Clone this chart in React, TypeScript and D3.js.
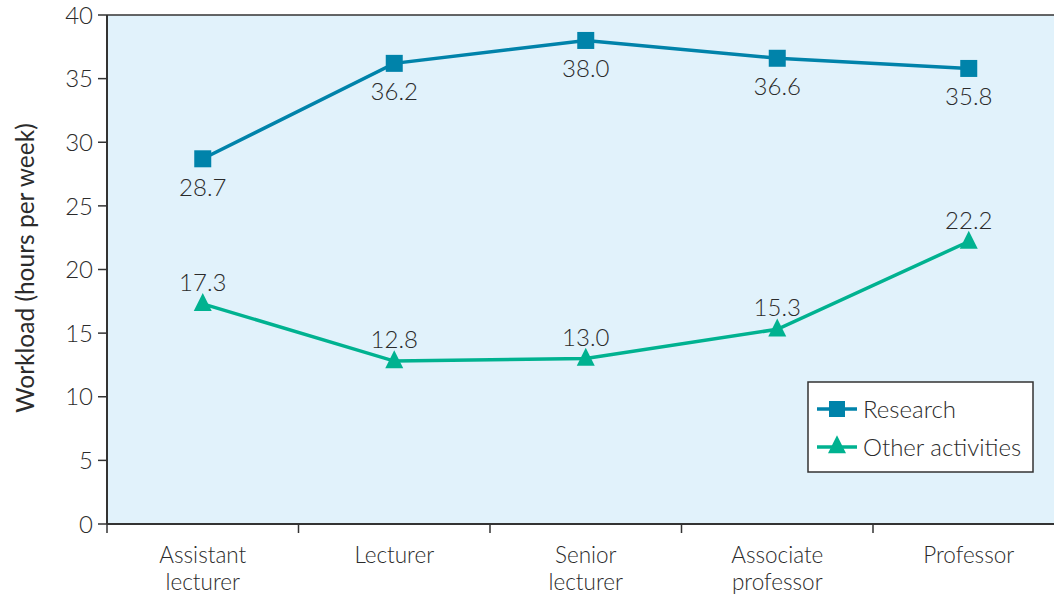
import React from "react";
import * as d3 from "d3";

const categories = ["Assistant\nlecturer", "Lecturer", "Senior\nlecturer", "Associate\nprofessor", "Professor"];
const research = [28.7, 36.2, 38.0, 36.6, 35.8];
const other = [17.3, 12.8, 13.0, 15.3, 22.2];
const yTicks = [0, 5, 10, 15, 20, 25, 30, 35, 40];
const seriesNames = ["Research", "Other activities"];

const W = 1054, H = 597;
const left = 107, top = 15, bottom = 524, right = 1064.5;
const C_RES = "#0083aa";
const C_OTH = "#00b290";
const TXT = "#2b2b2b";
const FONT = "Lato, 'Open Sans', sans-serif";

export default function App() {
  const x = d3.scaleBand<string>().domain(categories).range([left, right]);
  const y = d3.scaleLinear().domain([0, 40]).range([bottom, top]);
  const line = d3.line<number>().x((_, i) => x(categories[i])! + x.bandwidth() / 2).y((d) => y(d));
  const cx = (i: number) => x(categories[i])! + x.bandwidth() / 2;
  const tri = (px: number, py: number, s: number) =>
    `M${px},${py - s * 0.6}L${px + s / 2},${py + s * 0.4}L${px - s / 2},${py + s * 0.4}Z`;
  const boundaries = categories.map((c) => x(c)!).concat([right]);

  return (
    <svg width={W} height={H} style={{ position: "absolute", left: 0, top: 0, fontFamily: FONT }}>
      <rect x={0} y={0} width={W} height={H} fill="#fff" />
      <rect x={left} y={top} width={right - left} height={bottom - top} fill="#e1f2fb" />
      <line x1={left} x2={right} y1={top} y2={top} stroke="#333" strokeWidth={1.5} />
      <line x1={left} x2={left} y1={top} y2={bottom} stroke="#333" strokeWidth={2} />
      <line x1={left} x2={right} y1={bottom} y2={bottom} stroke="#333" strokeWidth={2} />
      {yTicks.map((t) => (
        <g key={t}>
          <line x1={left - 9} x2={left} y1={y(t)} y2={y(t)} stroke="#333" strokeWidth={1.5} />
          <text x={left - 14} y={y(t)} dy="0.36em" textAnchor="end" fontSize={24} fontWeight={300} fill={TXT}>
            {t}
          </text>
        </g>
      ))}
      {boundaries.map((b, i) => (
        <line key={i} x1={b} x2={b} y1={bottom} y2={bottom + 9} stroke="#333" strokeWidth={1.5} />
      ))}
      {categories.map((c, i) =>
        c.split("\n").map((l, j) => (
          <text
            key={c + j}
            x={cx(i)}
            y={563 + j * 27}
            textAnchor="middle"
            fontSize={22.5}
            fontWeight={300}
            fill={TXT}
          >
            {l}
          </text>
        ))
      )}
      <text
        transform={`translate(25,268) rotate(-90)`}
        dy="0.36em"
        textAnchor="middle"
        fontSize={24.5}
        fontWeight={400}
        fill={TXT}
      >
        Workload (hours per week)
      </text>

      <path d={line(research)!} fill="none" stroke={C_RES} strokeWidth={3.5} />
      <path d={line(other)!} fill="none" stroke={C_OTH} strokeWidth={3.5} />
      {research.map((v, i) => (
        <g key={i}>
          <rect x={cx(i) - 8.5} y={y(v) - 8.5} width={17} height={17} fill={C_RES} />
          <text x={cx(i)} y={y(v) + 37} textAnchor="middle" fontSize={24} fontWeight={300} fill={TXT}>
            {v.toFixed(1)}
          </text>
        </g>
      ))}
      {other.map((v, i) => (
        <g key={i}>
          <path d={tri(cx(i), y(v), 18)} fill={C_OTH} />
          <text x={cx(i)} y={y(v) - 13} textAnchor="middle" fontSize={24} fontWeight={300} fill={TXT}>
            {v.toFixed(1)}
          </text>
        </g>
      ))}

      <rect x={808} y={382} width={225} height={90} fill="#fff" stroke="#333" strokeWidth={1.5} />
      {seriesNames.map((n, i) => {
        const ly = 409 + i * 38;
        const col = i === 0 ? C_RES : C_OTH;
        return (
          <g key={n}>
            <line x1={817} x2={857} y1={ly} y2={ly} stroke={col} strokeWidth={3.5} />
            {i === 0 ? (
              <rect x={829} y={ly - 8} width={16} height={16} fill={col} />
            ) : (
              <path d={tri(837, ly - 1, 18)} fill={col} />
            )}
            <text x={863} y={ly} dy="0.36em" fontSize={24} fontWeight={300} fill={TXT}>
              {n}
            </text>
          </g>
        );
      })}
    </svg>
  );
}
